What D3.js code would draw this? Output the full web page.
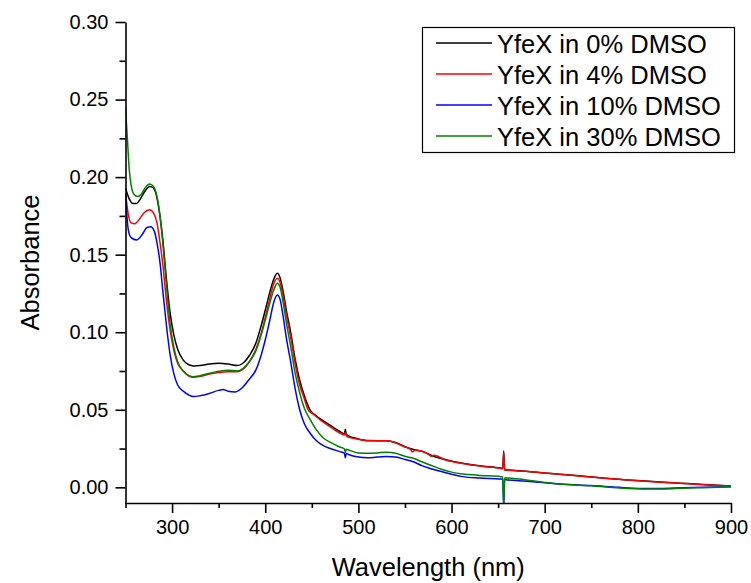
<!DOCTYPE html>
<html>
<head>
<meta charset="utf-8">
<script src="https://d3js.org/d3.v7.min.js"></script>
<style>
  html, body { margin: 0; padding: 0; background: #fff; }
  svg { display: block; font-family: "Liberation Sans", Arial, sans-serif; }
</style>
</head>
<body>
<svg id="chart" width="751" height="583"></svg>
<script>
// UV-Vis absorbance spectra of YfeX at several DMSO concentrations.
// Each series: [wavelength (nm), absorbance]
const dmso0 = [
  [250, 0.193], [254, 0.186], [258, 0.183], [262, 0.183], [266, 0.186], [271, 0.191],
  [276, 0.194], [280, 0.193], [284, 0.186], [287, 0.175], [290, 0.160], [294, 0.134],
  [298, 0.112], [302, 0.098], [306, 0.089], [312, 0.082], [318, 0.079], [323, 0.0783],
  [330, 0.0785], [340, 0.0795], [350, 0.0800], [360, 0.0795], [370, 0.0785], [376, 0.0800],
  [383, 0.085], [390, 0.093], [396, 0.105], [401, 0.1165], [405, 0.126], [409, 0.134],
  [413, 0.138], [416, 0.135], [419, 0.127], [423, 0.113], [427, 0.101], [432, 0.083],
  [437, 0.069], [442, 0.059], [448, 0.050], [455, 0.046], [462, 0.043], [470, 0.040],
  [480, 0.036], [485, 0.0345], [486, 0.0375], [487, 0.034], [490, 0.0330], [500, 0.0312],
  [510, 0.0302], [520, 0.0301], [530, 0.0301], [541, 0.0286], [550, 0.0262], [560, 0.0242],
  [569, 0.0232], [580, 0.0202], [594, 0.0178], [610, 0.0157], [630, 0.0139], [653, 0.0124],
  [655, 0.0122], [656, 0.0234], [657, 0.0114], [660, 0.0112], [680, 0.0104], [700, 0.0093],
  [716, 0.0085], [750, 0.0067], [788, 0.0048], [820, 0.0036], [845, 0.0027], [870, 0.0018],
  [900, 0.0009]
];

const dmso4 = [
  [250, 0.190], [253, 0.176], [256, 0.1705], [260, 0.170], [265, 0.173], [270, 0.177],
  [276, 0.179], [280, 0.177], [284, 0.170], [287, 0.158], [290, 0.144], [294, 0.120],
  [298, 0.101], [302, 0.088], [306, 0.080], [312, 0.075], [318, 0.0718], [323, 0.0710],
  [330, 0.0715], [340, 0.0730], [350, 0.0740], [360, 0.0745], [370, 0.0745], [376, 0.0760],
  [383, 0.081], [390, 0.089], [396, 0.100], [401, 0.112], [405, 0.122], [409, 0.131],
  [413, 0.1348], [416, 0.132], [419, 0.124], [423, 0.110], [427, 0.098], [432, 0.080],
  [437, 0.066], [442, 0.057], [446, 0.050], [452, 0.047], [460, 0.043], [470, 0.039],
  [480, 0.035], [485, 0.0338], [486, 0.0355], [487, 0.0334], [490, 0.0322], [500, 0.0310],
  [510, 0.0300], [520, 0.0300], [530, 0.0300], [541, 0.0284], [550, 0.0260], [556, 0.0245],
  [558, 0.0228], [561, 0.0240], [569, 0.0230], [575, 0.0214], [578, 0.0200], [581, 0.0207],
  [594, 0.0176], [610, 0.0155], [630, 0.0137], [653, 0.0122], [655, 0.0120], [656, 0.0223],
  [657, 0.0112], [660, 0.0110], [680, 0.0103], [700, 0.0092], [716, 0.0084], [750, 0.0066],
  [788, 0.0047], [820, 0.0035], [845, 0.0026], [870, 0.0017], [900, 0.0008]
];

const dmso10 = [
  [250, 0.188], [253, 0.166], [256, 0.161], [262, 0.1595], [268, 0.163], [273, 0.1675],
  [277, 0.168], [281, 0.165], [284, 0.157], [287, 0.145], [290, 0.127], [294, 0.104],
  [298, 0.085], [302, 0.073], [306, 0.066], [312, 0.062], [318, 0.0595], [323, 0.0585],
  [330, 0.0590], [340, 0.0605], [350, 0.0625], [355, 0.0630], [360, 0.0620], [368, 0.0615],
  [375, 0.0640], [382, 0.069], [390, 0.0757], [396, 0.086], [400, 0.095], [405, 0.108],
  [409, 0.119], [413, 0.124], [416, 0.121], [419, 0.111], [423, 0.095], [427, 0.082],
  [432, 0.064], [437, 0.050], [442, 0.041], [448, 0.035], [455, 0.030], [462, 0.027],
  [470, 0.025], [480, 0.0230], [485, 0.0220], [486, 0.0190], [487, 0.0218], [490, 0.0210],
  [500, 0.0195], [510, 0.0190], [520, 0.0195], [530, 0.0198], [540, 0.0195], [550, 0.0180],
  [559, 0.0165], [568, 0.0140], [577, 0.0122], [590, 0.0100], [600, 0.0085], [612, 0.0069],
  [630, 0.0060], [653, 0.0054], [655, 0.0052], [656, -0.0120], [657, 0.0050], [660, 0.0048],
  [680, 0.0040], [700, 0.0030], [716, 0.0021], [750, 0.0012], [780, 0.0000], [812, -0.0008],
  [840, -0.0005], [870, 0.0000], [900, 0.0004]
];

const dmso30 = [
  [250, 0.245], [252, 0.225], [254, 0.205], [256, 0.195], [259, 0.189], [263, 0.1875],
  [267, 0.189], [271, 0.193], [276, 0.1955], [280, 0.194], [284, 0.187], [287, 0.175],
  [290, 0.158], [294, 0.130], [298, 0.105], [302, 0.090], [306, 0.081], [312, 0.075],
  [318, 0.072], [323, 0.0713], [330, 0.0720], [340, 0.0735], [350, 0.0748], [360, 0.0755],
  [370, 0.0750], [376, 0.0765], [383, 0.081], [390, 0.088], [396, 0.099], [401, 0.110],
  [405, 0.119], [409, 0.127], [413, 0.1316], [416, 0.129], [419, 0.120], [423, 0.105],
  [427, 0.092], [432, 0.074], [437, 0.061], [442, 0.051], [448, 0.044], [455, 0.037],
  [462, 0.032], [470, 0.029], [480, 0.0260], [485, 0.0248], [486, 0.0225], [487, 0.0246],
  [490, 0.0240], [500, 0.0222], [510, 0.0220], [520, 0.0222], [530, 0.0226], [540, 0.0220],
  [550, 0.0200], [559, 0.0187], [568, 0.0165], [577, 0.0144], [590, 0.0115], [600, 0.0098],
  [612, 0.0086], [630, 0.0077], [653, 0.0069], [655, 0.0067], [656, -0.0125], [657, 0.0062],
  [660, 0.0060], [680, 0.0048], [700, 0.0032], [716, 0.0021], [750, 0.0010], [780, -0.0004],
  [812, -0.0011], [840, -0.0008], [870, -0.0002], [900, 0.0004]
];

const seriesLabels = ["YfeX in 0% DMSO", "YfeX in 4% DMSO", "YfeX in 10% DMSO", "YfeX in 30% DMSO"];
const seriesColors = ["#000000", "#ff0000", "#0000ff", "#008000"];
const seriesData = [dmso0, dmso4, dmso10, dmso30];

const xMajorTicks = [300, 400, 500, 600, 700, 800, 900];
const xMinorTicks = [250, 350, 450, 550, 650, 750, 850];
const yMajorTicks = [0.00, 0.05, 0.10, 0.15, 0.20, 0.25, 0.30];
const yMinorTicks = [0.025, 0.075, 0.125, 0.175, 0.225, 0.275];

const xTitle = "Wavelength (nm)";
const yTitle = "Absorbance";

// Layout
const plot = { left: 125.5, right: 731, top: 22, bottom: 503 };

const svg = d3.select("#chart");

const x = d3.scaleLinear().domain([250, 900]).range([plot.left, plot.right]);
const y = d3.scaleLinear().domain([-0.0101, 0.30]).range([plot.bottom, plot.top]);

svg.append("defs").append("clipPath").attr("id", "plot-clip")
  .append("rect")
  .attr("x", plot.left).attr("y", plot.top)
  .attr("width", plot.right - plot.left + 2)
  .attr("height", plot.bottom - plot.top);

// Spectra
const line = d3.line()
  .x(d => x(d[0]))
  .y(d => y(d[1]))
  .curve(d3.curveMonotoneX);

const lines = svg.append("g").attr("clip-path", "url(#plot-clip)");
seriesData.forEach((data, i) => {
  lines.append("path")
    .datum(data)
    .attr("fill", "none")
    .attr("stroke", seriesColors[i])
    .attr("stroke-width", 1.5)
    .attr("stroke-linejoin", "round")
    .attr("d", line);
});

// X axis
const xAxis = svg.append("g").attr("transform", `translate(0,${plot.bottom})`);
xAxis.call(d3.axisBottom(x).tickValues(xMajorTicks).tickFormat(d3.format("d"))
  .tickSizeInner(10).tickSizeOuter(0).tickPadding(7));
xAxis.selectAll(".tick text").attr("font-size", 20).attr("fill", "#000")
  .attr("font-family", "'Liberation Sans', Arial, sans-serif");
const xMinor = svg.append("g").attr("transform", `translate(0,${plot.bottom})`);
xMinor.call(d3.axisBottom(x).tickValues(xMinorTicks).tickFormat("").tickSizeInner(5).tickSizeOuter(0));
xMinor.select(".domain").remove();

// Y axis
const yAxis = svg.append("g").attr("transform", `translate(${plot.left},0)`);
yAxis.call(d3.axisLeft(y).tickValues(yMajorTicks).tickFormat(d3.format(".2f"))
  .tickSizeInner(10).tickSizeOuter(0).tickPadding(7));
yAxis.selectAll(".tick text").attr("font-size", 20).attr("fill", "#000")
  .attr("font-family", "'Liberation Sans', Arial, sans-serif");
const yMinor = svg.append("g").attr("transform", `translate(${plot.left},0)`);
yMinor.call(d3.axisLeft(y).tickValues(yMinorTicks).tickFormat("").tickSizeInner(6).tickSizeOuter(0));
yMinor.select(".domain").remove();

svg.selectAll(".domain, .tick line").attr("stroke", "#000").attr("stroke-width", 1.6);

// Axis titles
svg.append("text")
  .attr("x", (plot.left + plot.right) / 2)
  .attr("y", 576)
  .attr("text-anchor", "middle")
  .attr("font-size", 25.5)
  .attr("fill", "#000")
  .text(xTitle);

svg.append("text")
  .attr("transform", `translate(39,${(plot.top + plot.bottom) / 2}) rotate(-90)`)
  .attr("text-anchor", "middle")
  .attr("font-size", 25.5)
  .attr("fill", "#000")
  .text(yTitle);

// Legend
const legend = svg.append("g");
legend.append("rect")
  .attr("x", 422.5).attr("y", 27.5)
  .attr("width", 312).attr("height", 125)
  .attr("fill", "#fff").attr("stroke", "#000").attr("stroke-width", 1.2);

const rowY = d3.scalePoint().domain(d3.range(seriesLabels.length)).range([43, 136]);
seriesLabels.forEach((label, i) => {
  const yy = rowY(i);
  legend.append("line")
    .attr("x1", 436).attr("x2", 492)
    .attr("y1", yy).attr("y2", yy)
    .attr("stroke", seriesColors[i]).attr("stroke-width", 1.5);
  legend.append("text")
    .attr("x", 497).attr("y", yy + 9.5)
    .attr("font-size", 25.5)
    .attr("fill", "#000")
    .text(label);
});
</script>
</body>
</html>
